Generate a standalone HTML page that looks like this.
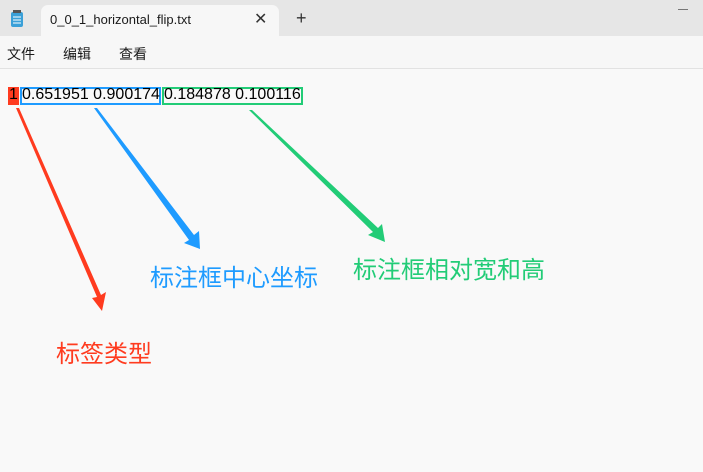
<!DOCTYPE html>
<html><head><meta charset="utf-8"><style>
body{margin:0;width:703px;height:472px;background:#f9f9f9;position:relative;overflow:hidden;font-family:"Liberation Sans","Noto Sans CJK SC",sans-serif}
.title{position:absolute;left:0;top:0;width:703px;height:36px;background:#e6e6e6}
.tab{position:absolute;left:41px;top:5px;width:238px;height:31px;background:#f7f7f7;border-radius:7px 7px 0 0}
.menu{position:absolute;left:0;top:36px;width:703px;height:32px;background:#f7f7f7;border-bottom:1px solid #e2e2e2}
.t{position:absolute;white-space:nowrap}
.box{position:absolute;box-sizing:border-box;height:18px;top:87px}
.n{position:absolute;top:86px;font-size:16px;color:#000;white-space:nowrap}
</style></head><body>
<div class="title"></div>
<div class="tab"></div>
<div class="t" style="left:50px;top:12px;font-size:13px;color:#1a1a1a">0_0_1_horizontal_flip.txt</div>
<div class="t" style="left:254px;top:9px;font-size:16px;color:#333">✕</div>
<div class="t" style="left:296px;top:8px;font-size:18px;color:#333">+</div>
<div style="position:absolute;left:678px;top:9px;width:10px;height:1px;background:#777"></div>
<svg style="position:absolute;left:10px;top:10px" width="14" height="18"><rect x="1" y="2" width="12" height="15" rx="2" fill="#3aa0d8"/><rect x="3" y="0" width="8" height="3" fill="#555"/><line x1="3" y1="7" x2="11" y2="7" stroke="#fff"/><line x1="3" y1="10" x2="11" y2="10" stroke="#fff"/><line x1="3" y1="13" x2="11" y2="13" stroke="#fff"/></svg>
<div class="menu"></div>
<div class="t" style="left:7px;top:44px;font-size:14px;color:#1a1a1a">文件</div>
<div class="t" style="left:63px;top:44px;font-size:14px;color:#1a1a1a">编辑</div>
<div class="t" style="left:119px;top:44px;font-size:14px;color:#1a1a1a">查看</div>
<div class="box" style="left:8px;width:11px;border:2px solid #ff3b1f;background:#ff3b1f"></div>
<div class="box" style="left:20px;width:141px;border:2px solid #1e9bff"></div>
<div class="box" style="left:162px;width:141px;border:2px solid #22cc77"></div>
<div class="n" style="left:9px">1</div>
<div class="n" style="left:22px">0.651951 0.900174</div>
<div class="n" style="left:164px">0.184878 0.100116</div>
<svg style="position:absolute;left:0;top:0" width="703" height="472">
<polygon points="16,108 19,108 101,295 106,292 102,311 92,298 97,297" fill="#ff3b1f"/>
<polygon points="94,108 97,108 194,235 199,231 200,249 184,243 189,240" fill="#1e9bff"/>
<polygon points="249,110 252,110 378,228 382,224 385,242 368,235 373,232" fill="#22cc77"/>
</svg>
<div class="t" style="left:56px;top:334px;font-size:24px;color:#ff3b1f">标签类型</div>
<div class="t" style="left:150px;top:258px;font-size:24px;color:#1e9bff">标注框中心坐标</div>
<div class="t" style="left:353px;top:250px;font-size:24px;color:#22cc77">标注框相对宽和高</div>
</body></html>
